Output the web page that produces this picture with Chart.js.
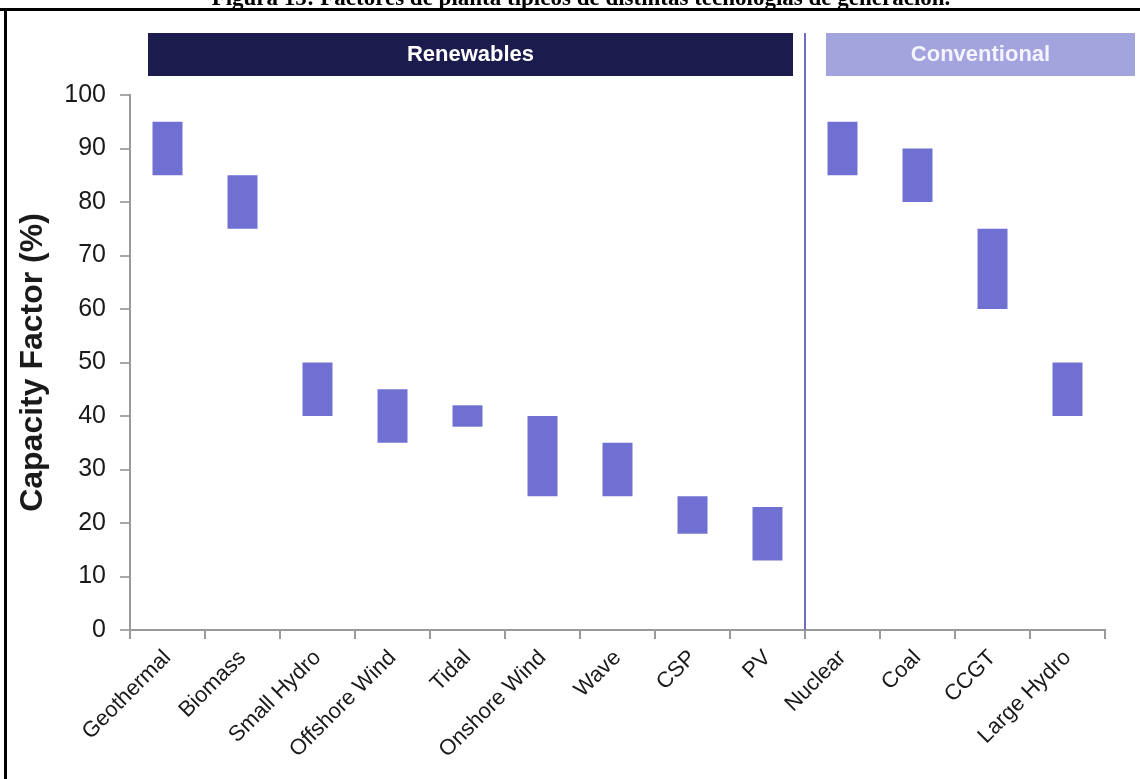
<!DOCTYPE html>
<html>
<head>
<meta charset="utf-8">
<title>Factores de planta</title>
<script src="https://cdn.jsdelivr.net/npm/chart.js@4.4.1/dist/chart.umd.min.js"></script>
<style>
    html, body { margin: 0; padding: 0; background: #ffffff; }
    #wrap { width: 1140px; height: 779px; position: relative; }
</style>
</head>
<body>
<div id="wrap"><canvas id="capacityChart"></canvas></div>
<script>
const figureTitle = 'Figura 15: Factores de planta típicos de distintas tecnologías de generación.';
const technologies = [
    'Geothermal', 'Biomass', 'Small Hydro', 'Offshore Wind', 'Tidal', 'Onshore Wind',
    'Wave', 'CSP', 'PV', 'Nuclear', 'Coal', 'CCGT', 'Large Hydro'
];
const lowValues  = [85, 75, 40, 35, 38, 25, 25, 18, 13, 85, 80, 60, 40];
const highValues = [95, 85, 50, 45, 42, 40, 35, 25, 23, 95, 90, 75, 50];
const groupNames = ['Renewables', 'Conventional'];
const groupSizes = [9, 4];
const yTicks = [0, 10, 20, 30, 40, 50, 60, 70, 80, 90, 100];

const ranges = technologies.map((t, i) => [lowValues[i], highValues[i]]);

// frame, caption, group headers and the renewables / conventional divider
const decorations = {
    id: 'decorations',
    afterDatasetsDraw(chart) {
        const ctx = chart.ctx;
        const x = chart.scales.x;
        const area = chart.chartArea;
        const split = x.getPixelForValue(groupSizes[0] - 0.5);
        const boxTop = area.top - 62;
        const boxH = 43;

        ctx.save();

        // caption cut by the top of the page
        ctx.fillStyle = '#000000';
        ctx.font = 'bold 23px "Liberation Serif", "Times New Roman", serif';
        ctx.textAlign = 'center';
        ctx.textBaseline = 'alphabetic';
        ctx.fillText(figureTitle, 581, 5);

        // frame
        ctx.fillRect(0, 8, chart.width, 3);
        ctx.fillRect(4, 8, 3, chart.height - 8);

        // divider
        ctx.strokeStyle = '#6e6ec4';
        ctx.lineWidth = 2;
        ctx.beginPath();
        ctx.moveTo(split, boxTop);
        ctx.lineTo(split, area.bottom);
        ctx.stroke();

        // headers
        const left0 = x.getPixelForValue(-0.5) + 18;
        const right0 = split - 12;
        const left1 = split + 21;
        const right1 = area.right + 30;
        ctx.fillStyle = '#1c1b4e';
        ctx.fillRect(left0, boxTop, right0 - left0, boxH);
        ctx.fillStyle = '#a3a3de';
        ctx.fillRect(left1, boxTop, right1 - left1, boxH);

        ctx.font = 'bold 22px "Liberation Sans", Arial, sans-serif';
        ctx.textBaseline = 'middle';
        ctx.fillStyle = '#ffffff';
        ctx.fillText(groupNames[0], (left0 + right0) / 2, boxTop + boxH / 2);
        ctx.fillStyle = '#f4f4ff';
        ctx.fillText(groupNames[1], (left1 + right1) / 2, boxTop + boxH / 2);

        ctx.restore();
    }
};

new Chart(document.getElementById('capacityChart'), {
    type: 'bar',
    data: {
        labels: technologies,
        datasets: [{
            label: 'Capacity Factor (%)',
            data: ranges,
            backgroundColor: '#7070d2',
            borderWidth: 0,
            borderSkipped: false,
            barPercentage: 0.4,
            categoryPercentage: 1.0
        }]
    },
    options: {
        responsive: true,
        maintainAspectRatio: false,
        animation: false,
        layout: {
            padding: { left: 8, top: 95, right: 35, bottom: 0 }
        },
        plugins: {
            legend: { display: false },
            tooltip: { enabled: false }
        },
        scales: {
            x: {
                afterFit(scale) { scale.height = 149; },
                grid: {
                    offset: true,
                    drawOnChartArea: false,
                    tickLength: 9,
                    color: '#9a9a9a',
                    lineWidth: 2
                },
                border: { color: '#9a9a9a', width: 2 },
                ticks: {
                    minRotation: 45,
                    maxRotation: 45,
                    padding: 6,
                    color: '#1a1a1a',
                    font: { family: '"Liberation Sans", Arial, sans-serif', size: 22 }
                }
            },
            y: {
                min: 0,
                max: 100,
                afterFit(scale) { scale.width = 122; },
                afterBuildTicks(scale) {
                    scale.ticks = yTicks.map(v => ({ value: v }));
                },
                grid: {
                    drawOnChartArea: false,
                    tickLength: 10,
                    color: '#a8a8a8',
                    lineWidth: 2
                },
                border: { color: '#9a9a9a', width: 2 },
                ticks: {
                    padding: 14,
                    color: '#1a1a1a',
                    font: { family: '"Liberation Sans", Arial, sans-serif', size: 25 }
                },
                title: {
                    display: true,
                    text: 'Capacity Factor (%)',
                    color: '#1a1a1a',
                    padding: { top: 6 },
                    font: { family: '"Liberation Sans", Arial, sans-serif', size: 32, weight: 'bold' }
                }
            }
        }
    },
    plugins: [decorations]
});
</script>
</body>
</html>
